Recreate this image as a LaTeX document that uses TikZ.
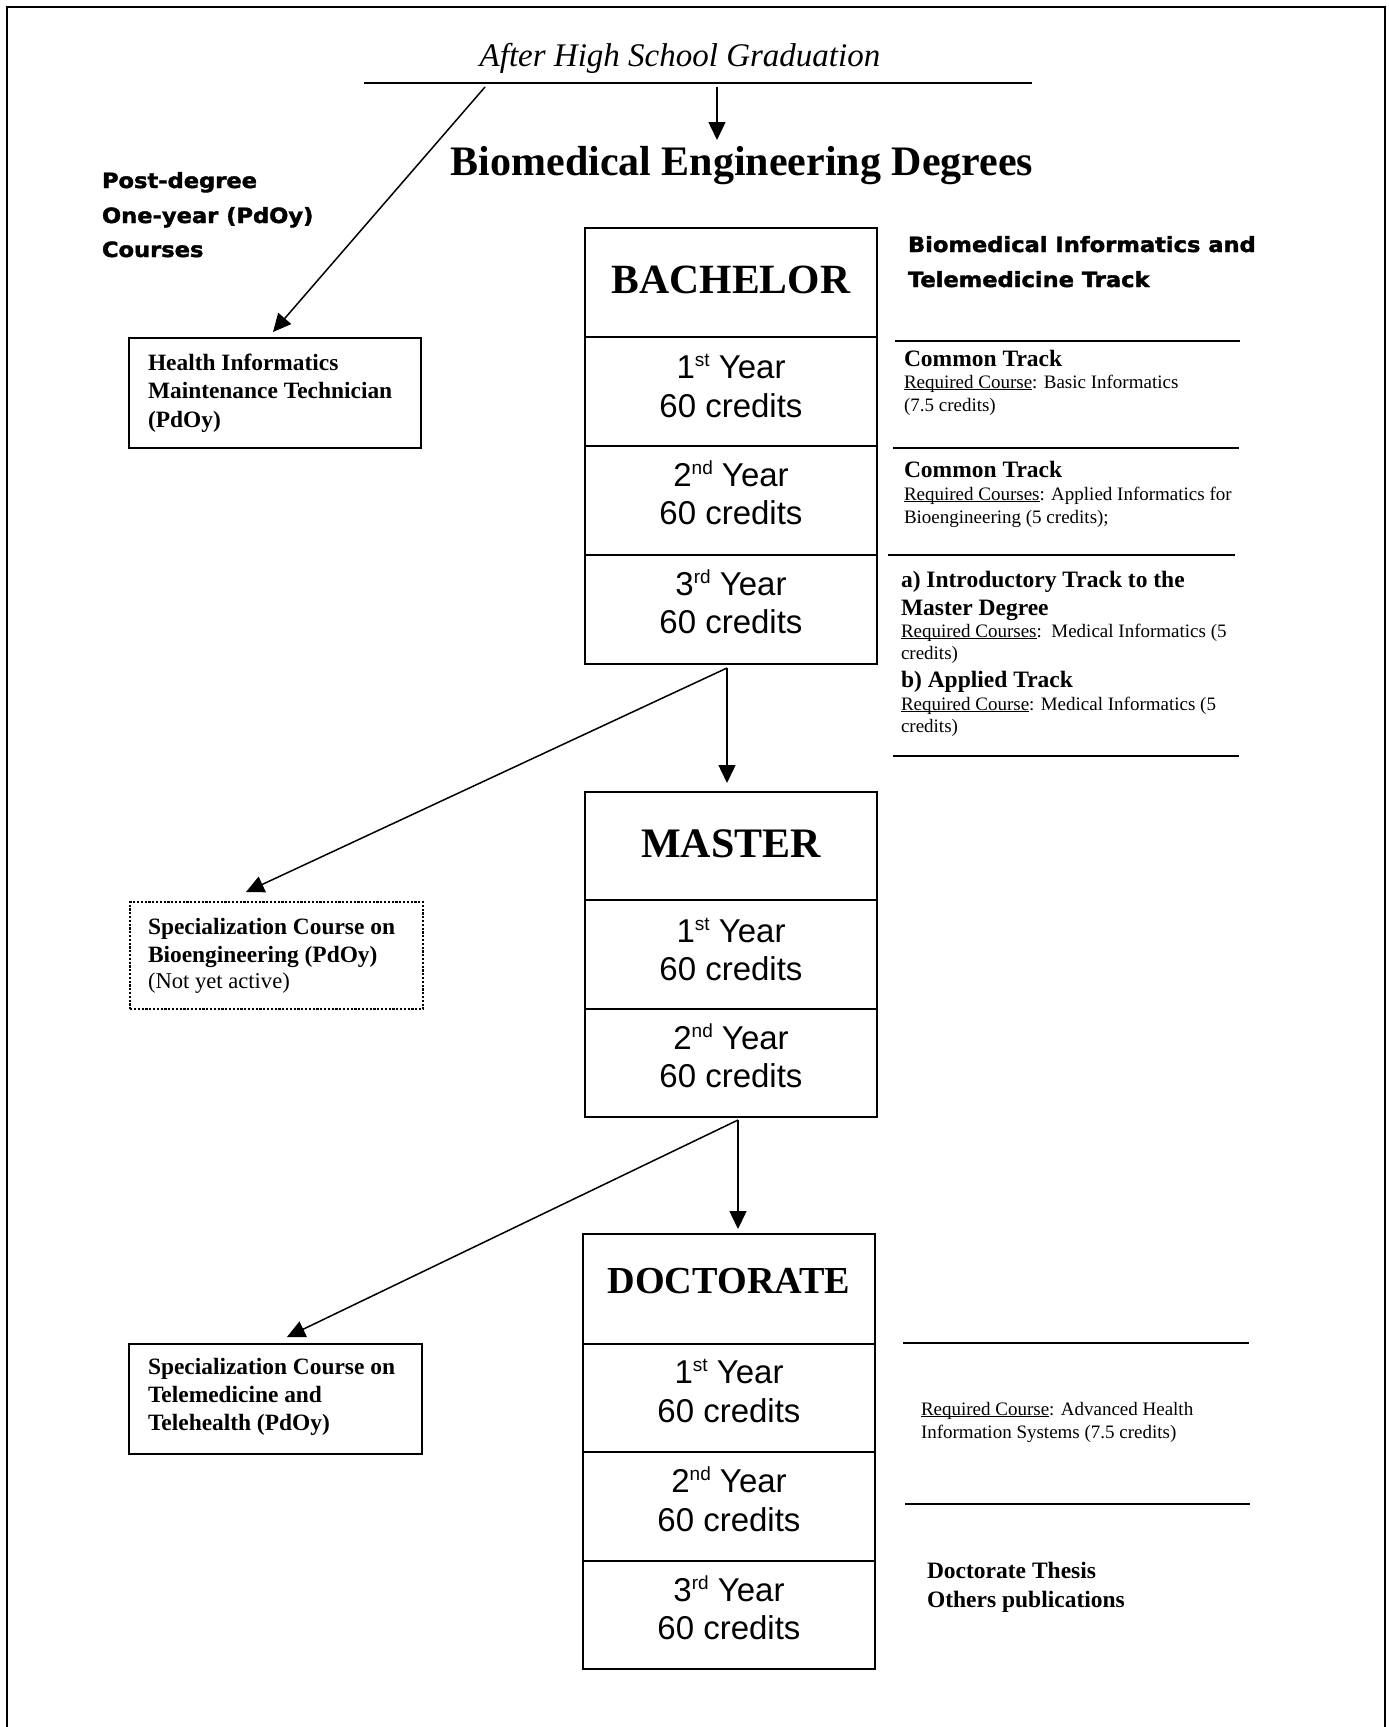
\documentclass[tikz,border=0pt]{standalone}
\usepackage{fontspec}
\setmainfont{Liberation Serif}
\newfontfamily\arialfont{Liberation Sans}
\newfontfamily\heavyfont{DejaVu Sans}[FakeStretch=1.075,BoldFeatures={FakeBold=1.8}]
\usetikzlibrary{arrows.meta}
\newcommand{\fsz}[2]{\fontsize{#1}{#2}\selectfont}
\newcommand{\tline}[4]{\node[txt,#4] (#1) at #2 {#3};}
\newcommand{\ulx}[1]{\setbox0\hbox{#1}\rlap{\rule[-1.6pt]{\wd0}{0.9pt}}\box0}
\newcommand{\supx}[1]{\raisebox{11.5pt}{\fontsize{19}{19}\selectfont #1}}
\begin{document}
\begin{tikzpicture}[x=1pt,y=-1pt,
  cell/.style={draw, line width=2pt, minimum width=292pt, inner sep=0pt},
  sidebox/.style={draw, line width=2pt, minimum width=292pt, minimum height=109pt, inner sep=0pt, anchor=north west},
  txt/.style={anchor=base west, inner sep=0pt, outer sep=0pt},
  ctxt/.style={anchor=base, inner sep=0pt, outer sep=0pt},
  yr/.style={ctxt, font=\arialfont\fsz{33}{39}},
  ttl/.style={ctxt, font=\bfseries\fsz{41.6}{48}},
  bx/.style={txt, font=\bfseries\fsz{23.4}{28}},
  sb/.style={font=\bfseries\fsz{23.5}{28}},
  sr/.style={font=\fsz{19}{23}},
  hv/.style={txt, font=\heavyfont\bfseries\fsz{21}{26}},
  rule/.style={line width=2pt},
  arr/.style={line width=1.5pt, -{Triangle[length=18pt,width=17pt]}}
]
\useasboundingbox (0,0) rectangle (1389,1727);
% outer frame
\draw[line width=2.5pt] (7,1727) -- (7,7) -- (1385,7) -- (1385,1727);

% header
\node[ctxt, font=\itshape\fsz{33}{39}] (hsg) at (680,66) {After High School Graduation};
\coordinate (hl) at (364,83);
\coordinate (hr) at (1032,83);
\draw[rule] (hl) -- (hr);
\coordinate (hsA) at (485,87);
\coordinate (hsB) at (717,87);
\node[ctxt, font=\bfseries\fsz{42}{50}] (bed) at (742,175) {Biomedical Engineering Degrees};
\coordinate (bedTip) at (717,140);

% heavy side titles
\tline{pd1}{(102,188)}{Post-degree}{hv}
\tline{pd2}{(102,223)}{One-year (PdOy)}{hv}
\tline{pd3}{(102,257)}{Courses}{hv}
\tline{bit1}{(908,252)}{Biomedical Informatics and}{hv}
\tline{bit2}{(908,287)}{Telemedicine Track}{hv}

% BACHELOR column
\node[cell, minimum height=109pt] (bt) at (731,282.5) {};
\node[cell, minimum height=109pt] (b1) at (731,391.5) {};
\node[cell, minimum height=109pt] (b2) at (731,500.5) {};
\node[cell, minimum height=109pt] (b3) at (731,609.5) {};
\node[ttl] (btT) at (731,293) {BACHELOR};
\node[yr] (b1a) at (731,378) {1\supx{st} Year};
\node[yr] (b1b) at (731,417) {60 credits};
\node[yr] (b2a) at (731,486) {2\supx{nd} Year};
\node[yr] (b2b) at (731,524) {60 credits};
\node[yr] (b3a) at (731,595) {3\supx{rd} Year};
\node[yr] (b3b) at (731,633) {60 credits};

% MASTER column
\node[cell, minimum height=108pt] (mt) at (731,846) {};
\node[cell, minimum height=109pt] (m1) at (731,954.5) {};
\node[cell, minimum height=108pt] (m2) at (731,1063) {};
\node[ttl, font=\bfseries\fsz{42}{50}] (mtT) at (731,857) {MASTER};
\node[yr] (m1a) at (731,942) {1\supx{st} Year};
\node[yr] (m1b) at (731,980) {60 credits};
\node[yr] (m2a) at (731,1049) {2\supx{nd} Year};
\node[yr] (m2b) at (731,1087) {60 credits};

% DOCTORATE column
\node[cell, minimum height=110pt] (dt) at (729,1289) {};
\node[cell, minimum height=108pt] (d1) at (729,1398) {};
\node[cell, minimum height=109pt] (d2) at (729,1506.5) {};
\node[cell, minimum height=108pt] (d3) at (729,1615) {};
\node[ttl, font=\bfseries\fsz{38.2}{45}] (dtT) at (729,1293) {DOCTORATE};
\node[yr] (d1a) at (729,1383) {1\supx{st} Year};
\node[yr] (d1b) at (729,1422) {60 credits};
\node[yr] (d2a) at (729,1492) {2\supx{nd} Year};
\node[yr] (d2b) at (729,1531) {60 credits};
\node[yr] (d3a) at (729,1601) {3\supx{rd} Year};
\node[yr] (d3b) at (729,1639) {60 credits};

% left boxes
\node[sidebox, minimum height=110pt] (hit) at (128,337) {};
\tline{hit1}{(148,370)}{Health Informatics}{bx}
\tline{hit2}{(148,398)}{Maintenance Technician}{bx}
\tline{hit3}{(148,427)}{(PdOy)}{bx}

\node[sidebox, minimum height=107pt, minimum width=293pt, line width=2.2pt, dash pattern=on 2.2pt off 1.6pt] (sbe) at (129,901) {};
\tline{sbe1}{(148,934)}{Specialization Course on}{bx}
\tline{sbe2}{(148,962)}{Bioengineering (PdOy)}{bx}
\tline{sbe3}{(148,988)}{(Not yet active)}{txt, font=\fsz{22.6}{27}}

\node[sidebox, minimum height=110pt, minimum width=293pt] (stt) at (128,1343) {};
\tline{stt1}{(148,1374)}{Specialization Course on}{bx}
\tline{stt2}{(148,1402)}{Telemedicine and}{bx}
\tline{stt3}{(148,1430)}{Telehealth (PdOy)}{bx}

% arrows
\coordinate (hitTip) at (273,332);
\draw[arr] (hsA) -- (hitTip);
\draw[arr] (hsB) -- (bedTip);
\coordinate (bOut) at (727,668);
\coordinate (mIn) at (727,783);
\coordinate (sbeTip) at (246,892);
\draw[arr] (bOut) -- (mIn);
\draw[arr] (bOut) -- (sbeTip);
\coordinate (mOut) at (738,1120);
\coordinate (dIn) at (738,1229);
\coordinate (sttTip) at (287,1337);
\draw[arr] (mOut) -- (dIn);
\draw[arr] (mOut) -- (sttTip);

% right side: bachelor track
\coordinate (r1l) at (895,341); \coordinate (r1r) at (1240,341);
\coordinate (r2l) at (893,448); \coordinate (r2r) at (1239,448);
\coordinate (r3l) at (888,555); \coordinate (r3r) at (1235,555);
\coordinate (r4l) at (893,756); \coordinate (r4r) at (1239,756);
\draw[rule] (r1l) -- (r1r);
\draw[rule] (r2l) -- (r2r);
\draw[rule] (r3l) -- (r3r);
\draw[rule] (r4l) -- (r4r);

\tline{c1a}{(904,366)}{Common Track}{sb}
\tline{c1b}{(904,388)}{\ulx{Required Course}: Basic Informatics}{sr}
\tline{c1c}{(904,411)}{(7.5 credits)}{sr}

\tline{c2a}{(904,477)}{Common Track}{sb}
\tline{c2b}{(904,500)}{\ulx{Required Courses}: Applied Informatics for}{sr}
\tline{c2c}{(904,523)}{Bioengineering (5 credits);}{sr}

\tline{c3a}{(901,587)}{a) Introductory Track to the}{sb}
\tline{c3b}{(901,615)}{Master Degree}{sb}
\tline{c3c}{(901,637)}{\ulx{Required Courses}:\ \ Medical Informatics (5}{sr}
\tline{c3d}{(901,659)}{credits)}{sr}
\tline{c3e}{(901,687)}{b) Applied Track}{sb}
\tline{c3f}{(901,710)}{\ulx{Required Course}: Medical Informatics (5}{sr}
\tline{c3g}{(901,732)}{credits)}{sr}

% right side: doctorate
\coordinate (r5l) at (903,1343); \coordinate (r5r) at (1249,1343);
\coordinate (r6l) at (905,1504); \coordinate (r6r) at (1250,1504);
\draw[rule] (r5l) -- (r5r);
\draw[rule] (r6l) -- (r6r);
\tline{dr1}{(921,1415)}{\ulx{Required Course}: Advanced Health}{sr}
\tline{dr2}{(921,1438)}{Information Systems (7.5 credits)}{sr}
\tline{dr3}{(927,1578)}{Doctorate Thesis}{sb}
\tline{dr4}{(927,1607)}{Others publications}{sb}
\end{tikzpicture}
\end{document}
